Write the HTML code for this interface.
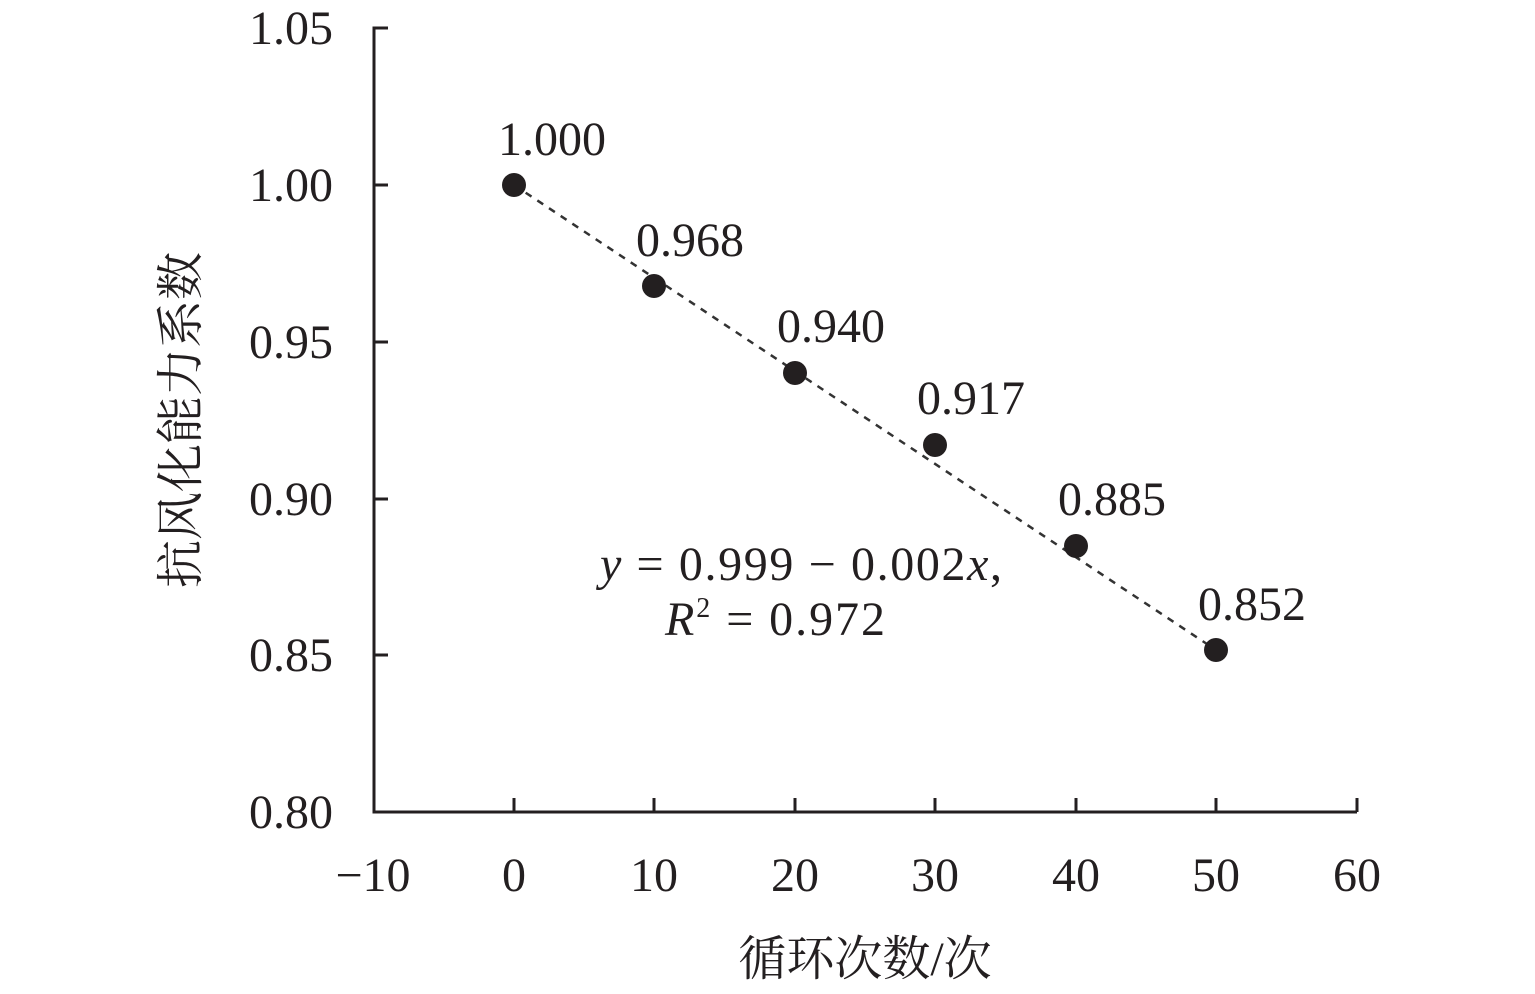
<!DOCTYPE html>
<html><head><meta charset="utf-8"><style>
body{margin:0;background:#fff}
svg text{font-family:"Liberation Serif","Times New Roman","Noto Serif CJK SC",serif;fill:#231f20}
</style></head><body>
<svg width="1535" height="989" viewBox="0 0 1535 989" xmlns="http://www.w3.org/2000/svg">
<g stroke="#231f20" stroke-width="3" fill="none">
<path d="M388 28H374V812H1357"/>
<path d="M374 185H388M374 342H388M374 499H388M374 655H388"/>
<path d="M514 812V798M654 812V798M795 812V798M935 812V798M1076 812V798M1216 812V798M1357 812V798"/>
</g>
<line x1="514" y1="185" x2="1216" y2="650" stroke="#333" stroke-width="2.5" stroke-dasharray="7,7"/>
<g fill="#231f20">
<circle cx="514" cy="185" r="12"/><circle cx="654" cy="286" r="12"/><circle cx="795" cy="373" r="12"/>
<circle cx="935" cy="445" r="12"/><circle cx="1076" cy="546" r="12"/><circle cx="1216" cy="650" r="12"/>
</g>
<g font-size="48" text-anchor="end">
<text x="333" y="44">1.05</text><text x="333" y="201">1.00</text><text x="333" y="358">0.95</text>
<text x="333" y="515">0.90</text><text x="333" y="671">0.85</text><text x="333" y="828">0.80</text>
</g>
<g font-size="48" text-anchor="middle">
<text x="373" y="891">−10</text><text x="514" y="891">0</text><text x="654" y="891">10</text><text x="795" y="891">20</text>
<text x="935" y="891">30</text><text x="1076" y="891">40</text><text x="1216" y="891">50</text><text x="1357" y="891">60</text>
</g>
<g font-size="48" text-anchor="middle">
<text x="552" y="155">1.000</text><text x="690" y="256">0.968</text><text x="831" y="342">0.940</text>
<text x="971" y="414">0.917</text><text x="1112" y="515">0.885</text><text x="1252" y="620">0.852</text>
</g>
<text x="600" y="580" font-size="48" textLength="402" lengthAdjust="spacing"><tspan font-style="italic">y</tspan> = 0.999 − 0.002<tspan font-style="italic">x</tspan>,</text>
<text x="665" y="635" font-size="48" textLength="220" lengthAdjust="spacing"><tspan font-style="italic">R</tspan><tspan font-size="28" dy="-18">2</tspan><tspan dy="18"> = 0.972</tspan></text>
<text x="865" y="975" font-size="48" text-anchor="middle">循环次数/次</text>
<text transform="translate(197,420) rotate(-90)" font-size="48" text-anchor="middle">抗风化能力系数</text>
</svg>
</body></html>
